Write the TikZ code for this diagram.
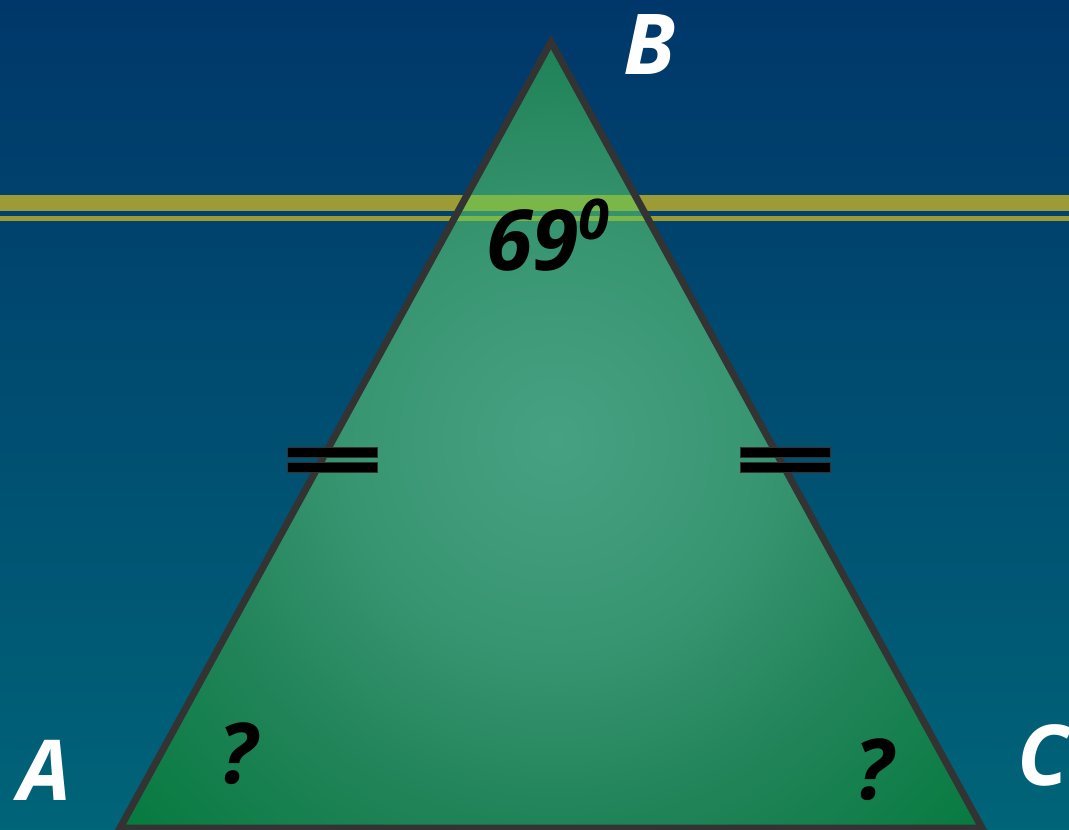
\documentclass[tikz,border=0pt]{standalone}
\usepackage{fontspec}
\setmainfont{Open Sans}
\definecolor{bgtop}{HTML}{00376A}
\definecolor{bgbot}{HTML}{006478}
\definecolor{olive}{HTML}{9C9B35}
\definecolor{lgreen}{HTML}{7AB648}
\definecolor{edge}{HTML}{333333}
\definecolor{cA}{HTML}{46A183}
\definecolor{cB}{HTML}{389571}
\definecolor{cC}{HTML}{22845A}
\definecolor{cD}{HTML}{067A3E}
\pgfdeclareradialshading{trishade}{\pgfpoint{0bp}{0bp}}{color(0bp)=(cA); color(9bp)=(cB); color(16bp)=(cC); color(25bp)=(cD); color(50bp)=(cD)}
\tikzset{
  lbl/.style={inner sep=0pt, font=\fontsize{84}{84}\selectfont\bfseries\itshape},
  tick/.style={fill=black, draw=black!80, line width=0.8pt},
  band/.style={fill=olive},
}
\begin{document}
\begin{tikzpicture}[x=1pt,y=-1pt]
\useasboundingbox (0,0) rectangle (1069,830);
\shade[top color=bgtop, bottom color=bgbot] (0,0) rectangle (1069,830);
% band
\fill[band] (0,195) rectangle (1069,211);
\fill[band] (0,216) rectangle (1069,221);
% triangle
\coordinate (A) at (120,828);
\coordinate (B) at (551,42);
\coordinate (C) at (982,828);
\begin{scope}
  \clip (A) -- (B) -- (C) -- cycle;
  \shade[shading=trishade] (555,440) circle (580pt);
  \fill[lgreen] (0,195) rectangle (1069,211);
  \fill[lgreen] (0,216) rectangle (1069,221);
\end{scope}
\draw[edge, line width=7pt, line join=miter] (A) -- (B) -- (C) -- cycle;
% ticks
\fill[tick] (287,447) rectangle (377,457);
\fill[tick] (287,462) rectangle (377,472);
\fill[tick] (740,447) rectangle (830,457);
\fill[tick] (740,462) rectangle (830,472);
% labels
\node[lbl, text=white] (lB) at (650,45) {B};
\node[lbl, text=white] (lA) at (45,770) {A};
\node[lbl, text=white] (lC) at (1043,755) {C};
\node[lbl, text=black, anchor=base west] (ang) at (486,270) {69\raisebox{0.36em}{\fontsize{56}{56}\selectfont 0}};
\node[lbl, text=black] (q1) at (238,754) {?};
\node[lbl, text=black] (q2) at (874,770) {?};
\end{tikzpicture}
\end{document}
